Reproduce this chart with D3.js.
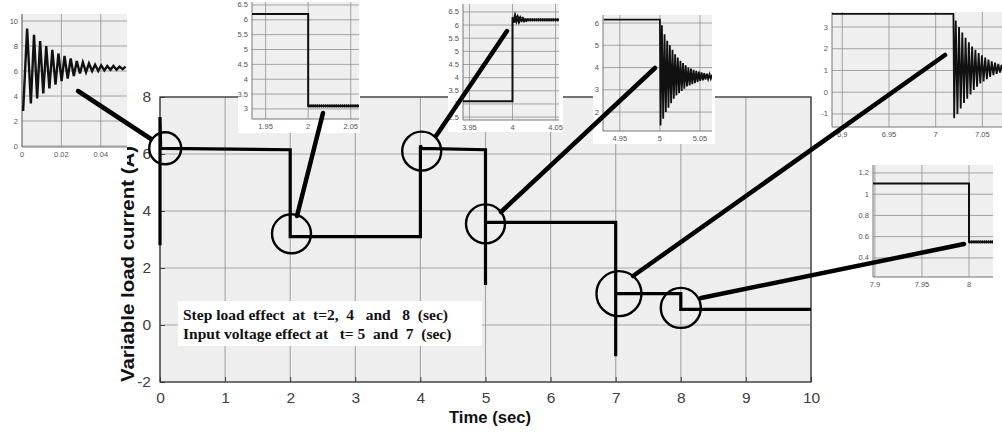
<!DOCTYPE html>
<html><head><meta charset="utf-8">
<script src="https://cdn.jsdelivr.net/npm/d3@7/dist/d3.min.js"></script>
<style>
html,body{margin:0;padding:0;background:#fff;}
svg{display:block;}
</style></head>
<body>
<svg id="c" width="1002" height="433"></svg>
<script>
// ---------- DATA ----------
const xTicks = [0,1,2,3,4,5,6,7,8,9,10];
const yTicks = [-2,0,2,4,6,8];
const mainT = [0, 0, 0.01, 0.03, 2.0, 2.0, 4.0, 4.0, 4.02, 5.0, 5.0, 5.0, 7.0, 7.0, 7.0, 8.0, 8.0, 10];
const mainI = [2.8, 7.3, 6.2, 6.2, 6.15, 3.1, 3.1, 6.3, 6.2, 6.15, 1.4, 3.6, 3.6, -1.1, 1.1, 1.1, 0.55, 0.55];
const xLabel = "Time (sec)";
const yLabel = "Variable load current (A)";
const noteLines = ["Step load effect  at  t=2,  4   and   8  (sec)", "Input voltage effect at   t= 5  and  7  (sec)"];
// circles marking the events (time, current)
const markT = [0.08, 2.02, 4.02, 5.0, 7.05, 8.0];
const markI = [6.2, 3.2, 6.1, 3.55, 1.1, 0.6];

// inset 1: start-up transient 0..0.05 s
const in1T = [0.0000,0.0006,0.0026,0.0045,0.0061,0.0077,0.0092,0.0108,0.0123,0.0139,0.0154,0.0170,0.0185,0.0201,0.0216,0.0232,0.0247,0.0263,0.0278,0.0294,0.0309,0.0325,0.0340,0.0356,0.0371,0.0387,0.0402,0.0418,0.0433,0.0449,0.0464,0.0480,0.0495,0.0511,0.0526];
const in1I = [2.9,2.9,9.4,3.4,8.9,3.8,8.4,4.2,8.0,4.6,7.7,4.9,7.4,5.2,7.2,5.4,7.0,5.6,6.8,5.8,6.7,5.9,6.6,6.0,6.5,6.0,6.45,6.05,6.4,6.1,6.4,6.1,6.35,6.15,6.35];
// inset 2: load step at t = 2
const in2T = [1.93, 2.0, 2.0, 2.06];
const in2I = [6.2, 6.2, 3.1, 3.1];
// inset 3: load step at t = 4
const in3T = [3.94, 4.0, 4.0, 4.0015, 4.003, 4.0045, 4.006, 4.0075, 4.009, 4.0105, 4.012, 4.0135, 4.015, 4.0165, 4.018, 4.06];
const in3I = [3.1, 3.1, 6.3, 6.1, 6.3, 6.13, 6.27, 6.15, 6.25, 6.16, 6.23, 6.17, 6.22, 6.18, 6.2, 6.2];
// inset 4: input voltage step at t = 5
const in4T = [4.93,5.0,5.0008,5.0025,5.0041,5.0058,5.0074,5.0091,5.0107,5.0124,5.014,5.0157,5.0173,5.019,5.0206,5.0223,5.0239,5.0256,5.0272,5.0289,5.0305,5.0322,5.0338,5.0355,5.0371,5.0388,5.0404,5.0421,5.0437,5.0454,5.047,5.0487,5.0503,5.052,5.0536,5.0553,5.0569,5.0586,5.0602,5.0619,5.0635,5.0652];
const in4I = [6.15,6.15,1.4,5.9,1.7,5.5,2.0,5.2,2.2,5.0,2.4,4.8,2.6,4.6,2.75,4.45,2.85,4.3,2.95,4.2,3.05,4.1,3.15,4.0,3.2,3.95,3.25,3.9,3.3,3.85,3.35,3.82,3.4,3.78,3.43,3.75,3.46,3.72,3.48,3.7,3.5,3.68];
// inset 5: input voltage step at t = 7
const in5T = [6.88,7.019,7.0198,7.0215,7.0233,7.025,7.0268,7.0285,7.0303,7.032,7.0338,7.0355,7.0373,7.039,7.0408,7.0425,7.0443,7.046,7.0478,7.0495,7.0513,7.053,7.0548,7.0565,7.0583,7.06,7.0618,7.0635,7.0653,7.067,7.0688,7.0705,7.072];
const in5I = [3.6,3.6,-1.2,3.3,-1.0,3.0,-0.75,2.75,-0.5,2.5,-0.3,2.3,-0.1,2.1,0.1,1.95,0.25,1.8,0.4,1.7,0.5,1.6,0.6,1.5,0.7,1.42,0.78,1.36,0.84,1.3,0.9,1.25,0.95];
// inset 6: load step at t = 8
const in6T = [7.88, 8.0, 8.0, 8.03];
const in6I = [1.1, 1.1, 0.55, 0.55];

const insetXTicks = [[0,0.02,0.04],[1.95,2,2.05],[3.95,4,4.05],[4.95,5,5.05],[6.9,6.95,7,7.05],[7.9,7.95,8]];
const insetXTickText = [["0","0.02","0.04"],["1.95","2","2.05"],["3.95","4","4.05"],["4.95","5","5.05"],["6.9","6.95","7","7.05"],["7.9","7.95","8"]];
const insetYTicks = [[0,2,4,6,8,10],[3,3.5,4,4.5,5,5.5,6,6.5],[2.5,3,3.5,4,4.5,5,5.5,6,6.5],[2,3,4,5,6],[-1,0,1,2,3],[0.4,0.6,0.8,1,1.2]];
const insetYTickText = [["0","2","4","6","8","10"],["3","3.5","4","4.5","5","5.5","6","6.5"],["2.5","3","3.5","4","4.5","5","5.5","6","6.5"],["2","3","4","5","6"],["-1","0","1","2","3"],["0.4","0.6","0.8","1","1.2"]];
const insetXDomains = [[0,0.0533],[1.934,2.0597],[3.9425,4.054],[4.929,5.065],[6.889,7.071],[7.898,8.0255]];
const insetYDomains = [[-0.08,10.56],[2.66,6.6],[2.39,6.8],[1.15,6.36],[-1.6,3.69],[0.22,1.275]];

// ---------- LAYOUT ----------
const svg = d3.select("#c");
const M = {left:160, right:811, top:97, bottom:382};
const x = d3.scaleLinear().domain([0,10]).range([M.left, M.right]);
const y = d3.scaleLinear().domain([-2,8]).range([M.bottom, M.top]);

// main plot background
svg.append("rect").attr("x",M.left).attr("y",M.top).attr("width",M.right-M.left).attr("height",M.bottom-M.top).attr("fill","#eeeeee");
// grid
const g = svg.append("g");
g.selectAll(".vx").data(xTicks).enter().append("line")
  .attr("x1",d=>x(d)).attr("x2",d=>x(d)).attr("y1",M.top).attr("y2",M.bottom)
  .attr("stroke","#a8a8a8").attr("stroke-width",1.2);
g.selectAll(".hy").data(yTicks).enter().append("line")
  .attr("y1",d=>y(d)).attr("y2",d=>y(d)).attr("x1",M.left).attr("x2",M.right)
  .attr("stroke","#a8a8a8").attr("stroke-width",1.2);
// axes
const fmt = d => String(d);
const xAx = d3.axisBottom(x).tickValues(xTicks).tickFormat(fmt).tickSize(-5).tickPadding(10);
const yAx = d3.axisLeft(y).tickValues(yTicks).tickFormat(fmt).tickSize(-5).tickPadding(9);
const gx = svg.append("g").attr("transform",`translate(0,${M.bottom})`).call(xAx);
const gy = svg.append("g").attr("transform",`translate(${M.left},0)`).call(yAx);
[gx,gy].forEach(a=>{
  a.select(".domain").remove();
  a.selectAll("line").attr("stroke","#444");
  a.selectAll("text").attr("font-family","Liberation Sans, Arial, sans-serif").attr("font-size",15.5).attr("fill","#404040");
});
svg.append("rect").attr("x",M.left).attr("y",M.top).attr("width",M.right-M.left).attr("height",M.bottom-M.top)
  .attr("fill","none").attr("stroke","#333").attr("stroke-width",1.2);

// axis titles
svg.append("text").attr("x",490).attr("y",423).attr("text-anchor","middle")
  .attr("font-family","Liberation Sans, Arial, sans-serif").attr("font-weight","bold").attr("font-size",17).attr("fill","#111")
  .attr("textLength",82).attr("lengthAdjust","spacingAndGlyphs")
  .text(xLabel);
svg.append("text").attr("transform","translate(134,264) rotate(-90)").attr("text-anchor","middle")
  .attr("font-family","Liberation Sans, Arial, sans-serif").attr("font-weight","bold").attr("font-size",18).attr("fill","#111")
  .attr("textLength",236).attr("lengthAdjust","spacingAndGlyphs")
  .text(yLabel);

// main series
const mainData = mainT.map((t,i)=>[t,mainI[i]]);
svg.append("path").datum(mainData)
  .attr("d", d3.line().x(d=>x(d[0])).y(d=>y(d[1])))
  .attr("fill","none").attr("stroke","#000").attr("stroke-width",3.2).attr("stroke-linejoin","miter");

// event circles
const radii = [16,19.5,19.5,19.5,22.5,20];
svg.selectAll(".mk").data(markT).enter().append("circle")
  .attr("cx",d=>x(d)).attr("cy",(d,i)=>y(markI[i])).attr("r",(d,i)=>radii[i])
  .attr("fill","none").attr("stroke","#000").attr("stroke-width",2.4);

// note box
svg.append("rect").attr("x",178).attr("y",301).attr("width",304).attr("height",45).attr("fill","#fff");
noteLines.forEach((s,i)=>{
  svg.append("text").attr("x",183).attr("y",320+i*19).attr("xml:space","preserve").style("white-space","pre")
    .attr("font-family","Liberation Serif, Times New Roman, serif").attr("font-weight","bold").attr("font-size",15.5).attr("fill","#111")
    .text(s);
});

// ---------- INSETS ----------
const insetBoxes = [
  {bx:0,by:0,bw:127,bh:166, l:22,t:14,r:127,b:147},
  {bx:238,by:0,bw:122,bh:133, l:252,t:2,r:359,b:119},
  {bx:448,by:0,bw:115,bh:132, l:463,t:4,r:559,b:120},
  {bx:593,by:10,bw:122,bh:134, l:603,t:15,r:712,b:131},
  {bx:822,by:0,bw:180,bh:146, l:832,t:12,r:1002,b:127},
  {bx:848,by:160,bw:154,bh:135, l:873,t:165,r:993,b:277}
];
const insetData = [[in1T,in1I],[in2T,in2I],[in3T,in3I],[in4T,in4I],[in5T,in5I],[in6T,in6I]];
const lineWidth = [2.4, 2.0, 2.0, 1.8, 1.8, 2.0];

insetBoxes.forEach((B,k)=>{
  const gi = svg.append("g");
  const clipId = "clip"+k;
  gi.append("clipPath").attr("id",clipId).append("rect").attr("x",B.l).attr("y",B.t).attr("width",B.r-B.l).attr("height",B.b-B.t);
  gi.append("rect").attr("x",B.bx).attr("y",B.by).attr("width",B.bw).attr("height",B.bh).attr("fill","#fff");
  gi.append("rect").attr("x",B.l).attr("y",B.t).attr("width",B.r-B.l).attr("height",B.b-B.t).attr("fill","#efefef");
  const xs = d3.scaleLinear().domain(insetXDomains[k]).range([B.l,B.r]);
  const ys = d3.scaleLinear().domain(insetYDomains[k]).range([B.b,B.t]);
  gi.selectAll(".gx").data(insetXTicks[k]).enter().append("line")
    .attr("x1",d=>xs(d)).attr("x2",d=>xs(d)).attr("y1",B.t).attr("y2",B.b).attr("stroke","#9a9a9a").attr("stroke-width",0.9);
  gi.selectAll(".gy").data(insetYTicks[k]).enter().append("line")
    .attr("y1",d=>ys(d)).attr("y2",d=>ys(d)).attr("x1",B.l).attr("x2",B.r).attr("stroke","#9a9a9a").attr("stroke-width",0.9);
  gi.append("line").attr("x1",B.l).attr("x2",B.l).attr("y1",B.t).attr("y2",B.b).attr("stroke","#777").attr("stroke-width",1);
  gi.append("line").attr("x1",B.l).attr("x2",B.r).attr("y1",B.b).attr("y2",B.b).attr("stroke","#777").attr("stroke-width",1);
  gi.selectAll(".tx").data(insetXTicks[k]).enter().append("text")
    .attr("x",d=>xs(d)).attr("y",B.b+10).attr("text-anchor","middle")
    .attr("font-family","Liberation Sans, Arial, sans-serif").attr("font-size",7.5).attr("fill","#555")
    .text((d,i)=>insetXTickText[k][i]);
  gi.selectAll(".ty").data(insetYTicks[k]).enter().append("text")
    .attr("x",B.l-4).attr("y",d=>ys(d)+2.5).attr("text-anchor","end")
    .attr("font-family","Liberation Sans, Arial, sans-serif").attr("font-size",7.5).attr("fill","#555")
    .text((d,i)=>insetYTickText[k][i]);
  const pts = insetData[k][0].map((t,i)=>[t,insetData[k][1][i]]);
  gi.append("path").datum(pts).attr("clip-path",`url(#${clipId})`)
    .attr("d", d3.line().x(d=>xs(d[0])).y(d=>ys(d[1])))
    .attr("fill","none").attr("stroke","#111").attr("stroke-width",lineWidth[k]);
  // settled ripple band after the step (drawn thicker)
  if(k===1||k===2||k===5){
    const startIdx = (k===2)? 3 : 2;
    gi.append("path").datum(pts.slice(startIdx)).attr("clip-path",`url(#${clipId})`)
      .attr("d", d3.line().x(d=>xs(d[0])).y(d=>ys(d[1])))
      .attr("fill","none").attr("stroke","#111").attr("stroke-width",3.2).attr("stroke-dasharray","1.5,0.6");
  }
});

// ---------- CONNECTORS ----------
const connectors = [
  [[78,91],[151,139]],
  [[323,113],[297,216]],
  [[507,31],[436,136]],
  [[655,68],[501,212]],
  [[945,55],[633,276]],
  [[964,244],[701,298]]
];
svg.selectAll(".cn").data(connectors).enter().append("line")
  .attr("x1",d=>d[0][0]).attr("y1",d=>d[0][1]).attr("x2",d=>d[1][0]).attr("y2",d=>d[1][1])
  .attr("stroke","#000").attr("stroke-width",4.5).attr("stroke-linecap","round");
</script>
</body></html>
